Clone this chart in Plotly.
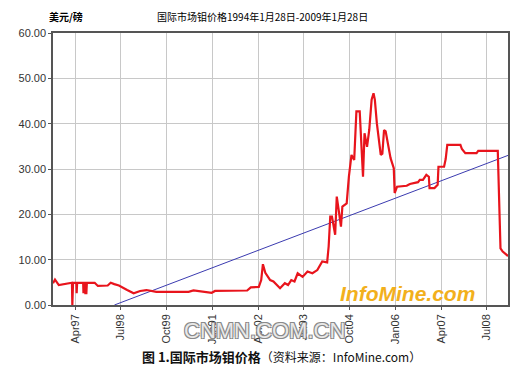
import plotly.graph_objects as go

# Molybdenum price, USD/lb
dates = [
    "1996-08-23", "1996-09-12", "1996-10-20", "1996-12-08", "1997-01-26", "1997-02-28",
    "1997-03-04", "1997-03-11", "1997-04-13", "1997-04-16", "1997-04-21", "1997-06-20",
    "1997-06-23", "1997-06-28", "1997-07-09", "1997-07-12", "1997-07-22", "1997-07-27",
    "1997-10-13", "1997-11-14", "1998-02-20", "1998-03-22", "1998-04-27", "1998-06-12",
    "1998-09-02", "1998-11-06", "1999-01-10", "1999-03-14", "1999-06-20", "2000-01-02",
    "2000-05-07", "2000-06-25", "2000-09-02", "2000-12-24", "2001-01-26", "2001-06-20",
    "2001-12-13", "2002-01-18", "2002-04-08", "2002-05-02", "2002-05-19", "2002-06-12",
    "2002-07-30", "2002-09-01", "2002-11-06", "2002-12-24", "2003-01-25", "2003-02-26",
    "2003-03-30", "2003-05-01", "2003-06-19", "2003-08-07", "2003-09-25", "2003-11-13",
    "2004-01-01", "2004-02-19", "2004-03-05", "2004-03-21", "2004-04-07", "2004-05-09",
    "2004-05-25", "2004-06-11", "2004-07-06", "2004-07-20", "2004-09-01", "2004-09-23",
    "2004-10-19", "2004-11-15", "2004-12-07", "2005-01-09", "2005-01-25", "2005-02-11",
    "2005-02-26", "2005-03-23", "2005-04-14", "2005-05-08", "2005-05-27", "2005-06-09",
    "2005-06-29", "2005-07-21", "2005-08-07", "2005-08-23", "2005-09-09", "2005-09-25",
    "2005-10-17", "2005-11-13", "2005-12-15", "2005-12-24", "2006-01-17", "2006-04-23",
    "2006-05-25", "2006-08-14", "2006-09-01", "2006-10-02", "2006-11-05", "2006-11-30",
    "2006-12-07", "2007-01-25", "2007-02-26", "2007-03-06", "2007-05-01", "2007-05-17",
    "2007-06-02", "2007-10-11", "2007-10-26", "2007-11-29", "2008-03-20", "2008-04-06",
    "2008-10-18", "2008-10-28", "2008-11-14", "2008-12-06", "2009-01-08", "2009-01-28",
]
prices = [
    4.8, 5.6, 4.4, 4.6, 4.9, 4.9,
    0.0, 4.9, 4.9, 2.6, 4.9, 4.9,
    2.6, 4.9, 4.9, 2.6, 2.6, 4.9,
    4.9, 4.2, 4.3, 4.9, 4.6, 4.3,
    3.3, 2.6, 3.1, 3.3, 2.9, 2.9,
    2.9, 3.2, 3.0, 2.7, 3.1, 3.1,
    3.2, 3.9, 4.0, 5.5, 9.0, 7.1,
    5.5, 5.2, 3.7, 4.8, 4.4, 5.5,
    5.2, 7.0, 6.2, 7.4, 7.0, 7.7,
    9.6, 9.4, 12.9, 19.5, 19.5, 15.5,
    23.9, 21.3, 17.3, 21.7, 22.4, 28.3,
    33.1, 32.0, 42.7, 42.7, 36.8, 28.3,
    37.9, 34.9, 38.6, 45.3, 46.7, 45.3,
    40.1, 36.4, 33.1, 33.4, 38.6, 38.3,
    35.7, 32.4, 30.2, 24.7, 26.1, 26.3,
    26.7, 27.1, 27.6, 27.6, 28.7, 28.3,
    25.8, 25.8, 26.5, 30.5, 30.5, 32.2,
    35.3, 35.3, 34.4, 33.5, 33.5, 34.0,
    34.0, 26.1, 12.5, 11.8, 11.3, 10.8,
]

trend_dates = ["1998-04-28", "2009-01-28"]
trend_values = [0.0, 33.0]

tick_dates = ["1997-04-01", "1998-07-01", "1999-10-01", "2001-01-01", "2002-04-01",
              "2003-07-01", "2004-10-01", "2006-01-01", "2007-04-01", "2008-07-01"]
tick_labels = ["Apr97", "Jul98", "Oct99", "Jan01", "Apr02",
               "Jul03", "Oct04", "Jan06", "Apr07", "Jul08"]

y_ticks = [0, 10, 20, 30, 40, 50, 60]

fig = go.Figure()
fig.add_trace(go.Scatter(x=trend_dates, y=trend_values, mode="lines",
                         line=dict(color="#3b3bb0", width=1), hoverinfo="skip"))
fig.add_trace(go.Scatter(x=dates, y=prices, mode="lines",
                         line=dict(color="#e8141c", width=2.2)))

axis_font = dict(family="Liberation Sans, Arial", size=11, color="#333333")
fig.update_layout(
    width=513, height=362,
    margin=dict(l=36, r=11, t=25, b=65),
    paper_bgcolor="white", plot_bgcolor="white",
    showlegend=False,
    xaxis=dict(
        type="date", range=["1996-08-23", "2009-01-28"],
        tickmode="array", tickvals=tick_dates, ticktext=tick_labels,
        tickangle=-90, tickfont=axis_font,
        showgrid=True, gridcolor="#c8c8c8", gridwidth=1,
        showline=True, linecolor="#555555", linewidth=1.5, mirror=True,
        ticks="outside", ticklen=3, tickcolor="#555555", zeroline=False,
    ),
    yaxis=dict(
        range=[0, 60], tickmode="array", tickvals=y_ticks,
        tickformat=".2f", tickfont=axis_font,
        showgrid=True, gridcolor="#c8c8c8", gridwidth=1,
        showline=True, linecolor="#555555", linewidth=1.5, mirror=True,
        ticks="outside", ticklen=3, tickcolor="#555555", zeroline=False,
    ),
)

cjk = "Noto Sans CJK SC"
common = dict(xref="paper", yref="paper", showarrow=False, xanchor="center", yanchor="middle")
fig.add_annotation(text="美元/磅", x=0.028, y=1.059,
                   font=dict(family=cjk, size=10, color="#000000", weight="bold"), **common)
fig.add_annotation(text="国际市场钼价格1994年1月28日-2009年1月28日", x=0.461, y=1.059,
                   font=dict(family=cjk, size=10, color="#000000"), **common)
fig.add_annotation(text="InfoMine.com", x=0.779, y=0.044,
                   font=dict(family="Liberation Sans", size=21, color="#f2b01c",
                             weight="bold", style="italic"), **common)
fig.add_annotation(text="CNMN.COM.CN", x=0.464, y=-0.092,
                   font=dict(family="Liberation Sans", size=22, color="#e8e8e8",
                             shadow="1px 1px 0 #8a8a8a, -1px -1px 0 #8a8a8a, 1px -1px 0 #8a8a8a, -1px 1px 0 #8a8a8a"),
                   **common)
fig.add_annotation(text="<b>图 1.国际市场钼价格</b><span style='font-size:12px'>（资料来源：InfoMine.com）</span>",
                   x=0.502, y=-0.191,
                   font=dict(family=cjk, size=13, color="#111111"), **common)

fig.write_html("out.html")
